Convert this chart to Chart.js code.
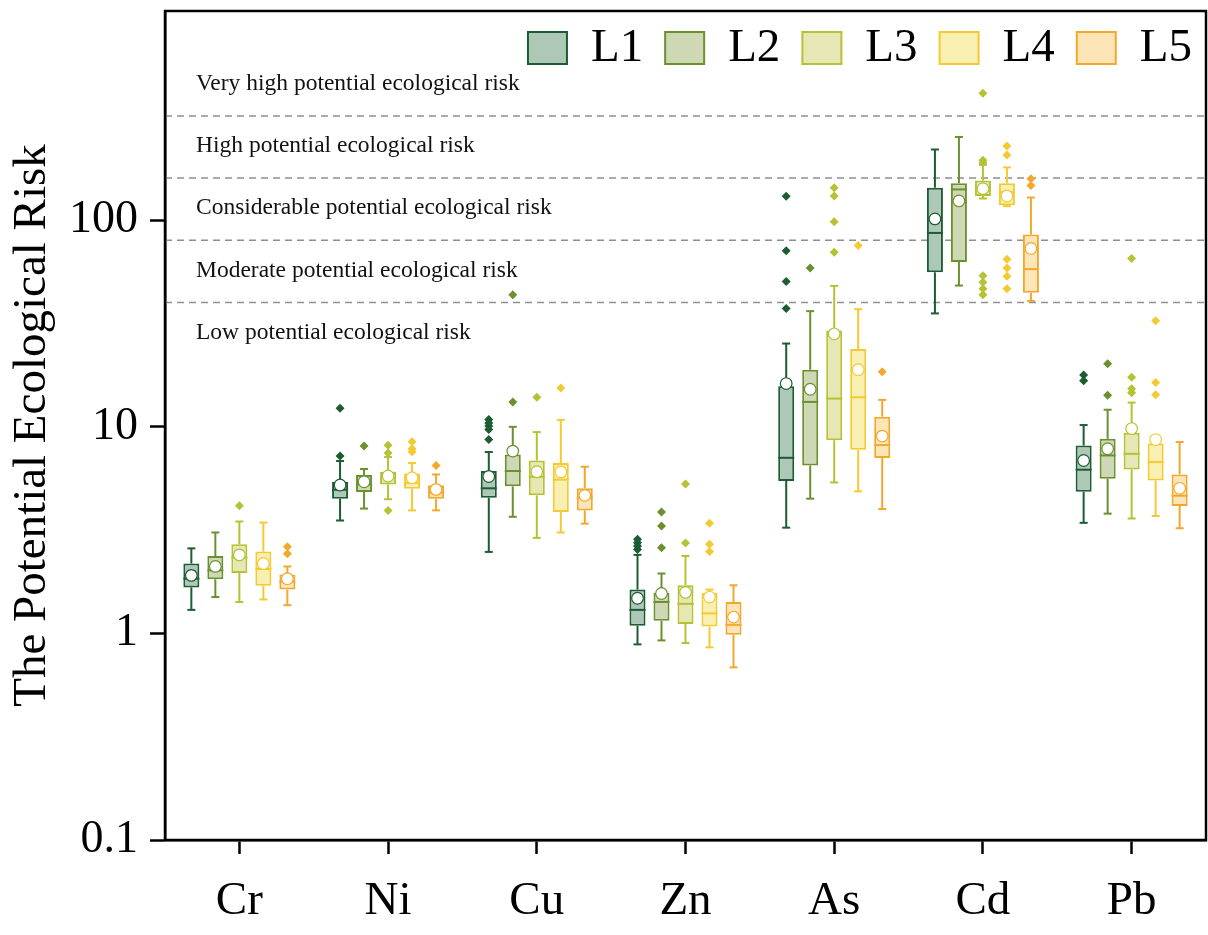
<!DOCTYPE html>
<html><head><meta charset="utf-8">
<script src="https://cdn.jsdelivr.net/npm/chart.js@4.4.1/dist/chart.umd.min.js"></script>
<style>html,body{margin:0;padding:0;background:#fff;}canvas{display:block;}</style>
</head><body>
<canvas id="c" width="1208" height="935"></canvas>
<script>
// ---------------- data ----------------
const categories = ['Cr', 'Ni', 'Cu', 'Zn', 'As', 'Cd', 'Pb'];
const levels = ['L1', 'L2', 'L3', 'L4', 'L5'];
const yTicks = [0.1, 1, 10, 100];
const riskThresholds = [40, 80, 160, 320];
const riskLabels = [
  'Low potential ecological risk',
  'Moderate potential ecological risk',
  'Considerable potential ecological risk',
  'High potential ecological risk',
  'Very high potential ecological risk'
];
// rows = L1..L5, columns = Cr, Ni, Cu, Zn, As, Cd, Pb
const whiskerLow = [
  [1.30, 3.52, 2.48, 0.885, 3.25, 35.4, 3.43],
  [1.50, 4.02, 3.67, 0.925, 4.49, 48.3, 3.80],
  [1.42, 4.46, 2.90, 0.898, 5.38, 127.4, 3.60],
  [1.46, 3.94, 3.08, 0.856, 4.87, 117, 3.70],
  [1.37, 3.94, 3.40, 0.685, 4.00, 40.7, 3.23]
];
const q1 = [
  [1.67, 4.49, 4.54, 1.09, 5.47, 56.0, 4.85],
  [1.83, 4.84, 5.15, 1.15, 6.50, 62.8, 5.61],
  [1.96, 5.26, 4.66, 1.11, 8.62, 131, 6.22],
  [1.70, 5.02, 3.87, 1.08, 7.74, 118.3, 5.50],
  [1.63, 4.49, 3.94, 0.986, 7.06, 44.6, 4.14]
];
const median = [
  [1.84, 4.96, 5.04, 1.30, 7.08, 86.8, 6.20],
  [2.02, 5.26, 6.11, 1.42, 13.2, 141, 7.27],
  [2.33, 5.67, 5.73, 1.39, 13.7, 144.6, 7.40],
  [2.05, 5.36, 5.55, 1.25, 13.9, 136.9, 6.75],
  [1.78, 4.80, 4.54, 1.10, 8.16, 58.0, 4.64]
];
const q3 = [
  [2.18, 5.42, 6.11, 1.63, 15.7, 143.7, 8.12],
  [2.37, 5.84, 7.35, 1.57, 18.9, 151, 8.75],
  [2.70, 6.06, 6.87, 1.71, 29.3, 155.7, 9.35],
  [2.49, 5.95, 6.68, 1.57, 23.8, 151.1, 8.30],
  [1.93, 5.21, 5.04, 1.42, 11.2, 85.2, 5.88]
];
const whiskerHigh = [
  [2.58, 6.83, 7.55, 2.40, 25.3, 220, 10.2],
  [3.08, 6.25, 10.0, 1.95, 36.3, 253, 12.1],
  [3.48, 7.14, 9.43, 2.37, 48.1, 185.5, 13.1],
  [3.44, 6.68, 10.8, 1.63, 37.1, 180.2, 8.7],
  [2.11, 5.88, 6.41, 1.71, 13.5, 128.8, 8.44]
];
const mean = [
  [1.91, 5.23, 5.75, 1.48, 16.2, 101.5, 6.87],
  [2.11, 5.42, 7.63, 1.56, 15.2, 124, 7.83],
  [2.40, 5.78, 6.06, 1.58, 28.2, 142.2, 9.81],
  [2.18, 5.67, 6.05, 1.50, 18.9, 131, 8.68],
  [1.84, 4.98, 4.66, 1.20, 9.02, 73.0, 5.04]
];
const outliers = [
  [[], [12.3, 7.22], [10.84, 10.45, 10.08, 9.70, 8.68], [2.86, 2.75, 2.65, 2.55], [130.6, 71.2, 50.5, 37.4], [], [17.8, 16.7]],
  [[], [8.07], [13.2, 43.6], [3.87, 3.31, 2.60], [58.8], [], [20.2, 14.2]],
  [[4.15], [8.15, 7.46, 3.93], [13.9], [5.29, 2.74], [143.7, 131, 98.2, 69.9], [412, 195, 190, 53.9, 50.1, 46.6, 43.6], [65.3, 17.4, 15.3, 14.6]],
  [[], [8.46, 7.83, 7.57], [15.4], [3.41, 2.70, 2.49], [75.5], [228.5, 207, 64.7, 58.8, 53.5, 46.6], [32.6, 16.4, 14.3]],
  [[2.63, 2.43], [6.50], [], [], [18.5], [158.6, 147.4], []]
];

// ---------------- styles ----------------
const strokeColors = ['#1d5c33', '#6b9030', '#b4c234', '#f3ca33', '#f3a82c'];
const fillColors = ['#aec8b7', '#cfd8b5', '#e6e7b4', '#f8efb1', '#fde5b8'];
const FONT = '"Liberation Serif", "Times New Roman", Times, serif';

const boxPlugin = {
  id: 'boxExtras',
  beforeDatasetsDraw(chart) {
    const { ctx, chartArea: a, scales: { y } } = chart;
    ctx.save();
    ctx.strokeStyle = '#8f8f8f';
    ctx.lineWidth = 1.5;
    ctx.setLineDash([7, 5]);
    riskThresholds.forEach(t => {
      const py = y.getPixelForValue(t);
      ctx.beginPath(); ctx.moveTo(a.left, py); ctx.lineTo(a.right, py); ctx.stroke();
    });
    ctx.setLineDash([]);
    ctx.fillStyle = '#111';
    ctx.font = '23.5px ' + FONT;
    ctx.textAlign = 'left';
    ctx.textBaseline = 'middle';
    const lowerBounds = [riskThresholds[0] / 2, ...riskThresholds];
    riskLabels.forEach((lab, i) => {
      ctx.fillText(lab, a.left + 31, y.getPixelForValue(lowerBounds[i] * 1.43));
    });
    ctx.restore();
  },
  afterDatasetsDraw(chart) {
    const { ctx, scales: { y } } = chart;
    const P = v => y.getPixelForValue(v);
    const line = (x1, y1, x2, y2) => { ctx.beginPath(); ctx.moveTo(x1, y1); ctx.lineTo(x2, y2); ctx.stroke(); };
    ctx.save();
    chart.data.datasets.forEach((ds, d) => {
      const meta = chart.getDatasetMeta(d);
      const col = strokeColors[d];
      meta.data.forEach((bar, i) => {
        const x = bar.x, w = bar.width;
        ctx.strokeStyle = col;
        ctx.lineWidth = 2;
        const pLo = P(whiskerLow[d][i]), pQ1 = P(q1[d][i]), pMed = P(median[d][i]);
        const pQ3 = P(q3[d][i]), pHi = P(whiskerHigh[d][i]);
        line(x, pQ3, x, pHi);
        line(x, pQ1, x, pLo);
        line(x - w / 4, pHi, x + w / 4, pHi);
        line(x - w / 4, pLo, x + w / 4, pLo);
        line(x - w / 2, pMed, x + w / 2, pMed);
        ctx.fillStyle = col;
        outliers[d][i].forEach(v => {
          const py = P(v), r = 4.5;
          ctx.beginPath();
          ctx.moveTo(x, py - r); ctx.lineTo(x + r, py); ctx.lineTo(x, py + r); ctx.lineTo(x - r, py);
          ctx.closePath(); ctx.fill();
        });
        ctx.beginPath();
        ctx.arc(x, P(mean[d][i]), 5.8, 0, Math.PI * 2);
        ctx.fillStyle = '#fff'; ctx.fill();
        ctx.lineWidth = 1.2; ctx.stroke();
      });
    });
    ctx.restore();
  },
  afterDraw(chart) {
    const { ctx, chartArea: a } = chart;
    ctx.save();
    ctx.strokeStyle = '#000';
    ctx.lineWidth = 2.5;
    ctx.strokeRect(a.left, a.top, a.right - a.left, a.bottom - a.top);
    // legend (top right, inside plot)
    ctx.font = '47px ' + FONT;
    ctx.textBaseline = 'middle';
    ctx.textAlign = 'left';
    const bw = 39, bh = 32, gapText = 24, gapItem = 22;
    const cy = a.top + 37;
    const widths = levels.map(l => bw + gapText + ctx.measureText(l).width);
    let x = a.right - 14 - widths.reduce((s, v) => s + v, 0) - gapItem * (levels.length - 1);
    levels.forEach((l, i) => {
      ctx.fillStyle = fillColors[i];
      ctx.fillRect(x, cy - bh / 2, bw, bh);
      ctx.strokeStyle = strokeColors[i];
      ctx.lineWidth = 2;
      ctx.strokeRect(x, cy - bh / 2, bw, bh);
      ctx.fillStyle = '#000';
      ctx.fillText(l, x + bw + gapText, cy + 1);
      x += widths[i] + gapItem;
    });
    ctx.restore();
  }
};

const datasets = levels.map((l, d) => ({
  label: l,
  data: categories.map((c, i) => [q1[d][i], q3[d][i]]),
  backgroundColor: fillColors[d],
  borderColor: strokeColors[d],
  borderWidth: 2,
  borderSkipped: false,
  barPercentage: 0.667,
  categoryPercentage: 0.807
}));

new Chart(document.getElementById('c'), {
  type: 'bar',
  data: { labels: categories, datasets },
  plugins: [boxPlugin],
  options: {
    responsive: false,
    animation: false,
    devicePixelRatio: 1,
    layout: { padding: { top: 11, right: 2, left: 0, bottom: 0 } },
    plugins: { legend: { display: false }, tooltip: { enabled: false } },
    scales: {
      x: {
        type: 'category',
        offset: true,
        afterFit: s => { s.height = 95; s.paddingLeft = 0; s.paddingRight = 0; },
        border: { display: true, color: '#000', width: 2.5 },
        grid: { drawOnChartArea: false, offset: false, tickLength: 14, tickWidth: 2.5, tickColor: '#000' },
        ticks: { color: '#000', font: { family: FONT, size: 47 }, padding: 19, maxRotation: 0 }
      },
      y: {
        type: 'logarithmic',
        min: 0.1,
        max: 1030,
        afterBuildTicks: s => { s.ticks = yTicks.map(v => ({ value: v })); },
        afterFit: s => { s.width = 165; s.paddingTop = 0; s.paddingBottom = 0; },
        border: { display: true, color: '#000', width: 2.5 },
        grid: { drawOnChartArea: false, tickLength: 15, tickWidth: 2.5, tickColor: '#000' },
        ticks: { color: '#000', font: { family: FONT, size: 46 }, padding: 12, callback: v => String(v) },
        title: { display: true, text: 'The Potential Ecological Risk', color: '#000', font: { family: FONT, size: 47, weight: 'normal' }, padding: { top: 4, bottom: 0 } }
      }
    }
  }
});
</script>
</body></html>
